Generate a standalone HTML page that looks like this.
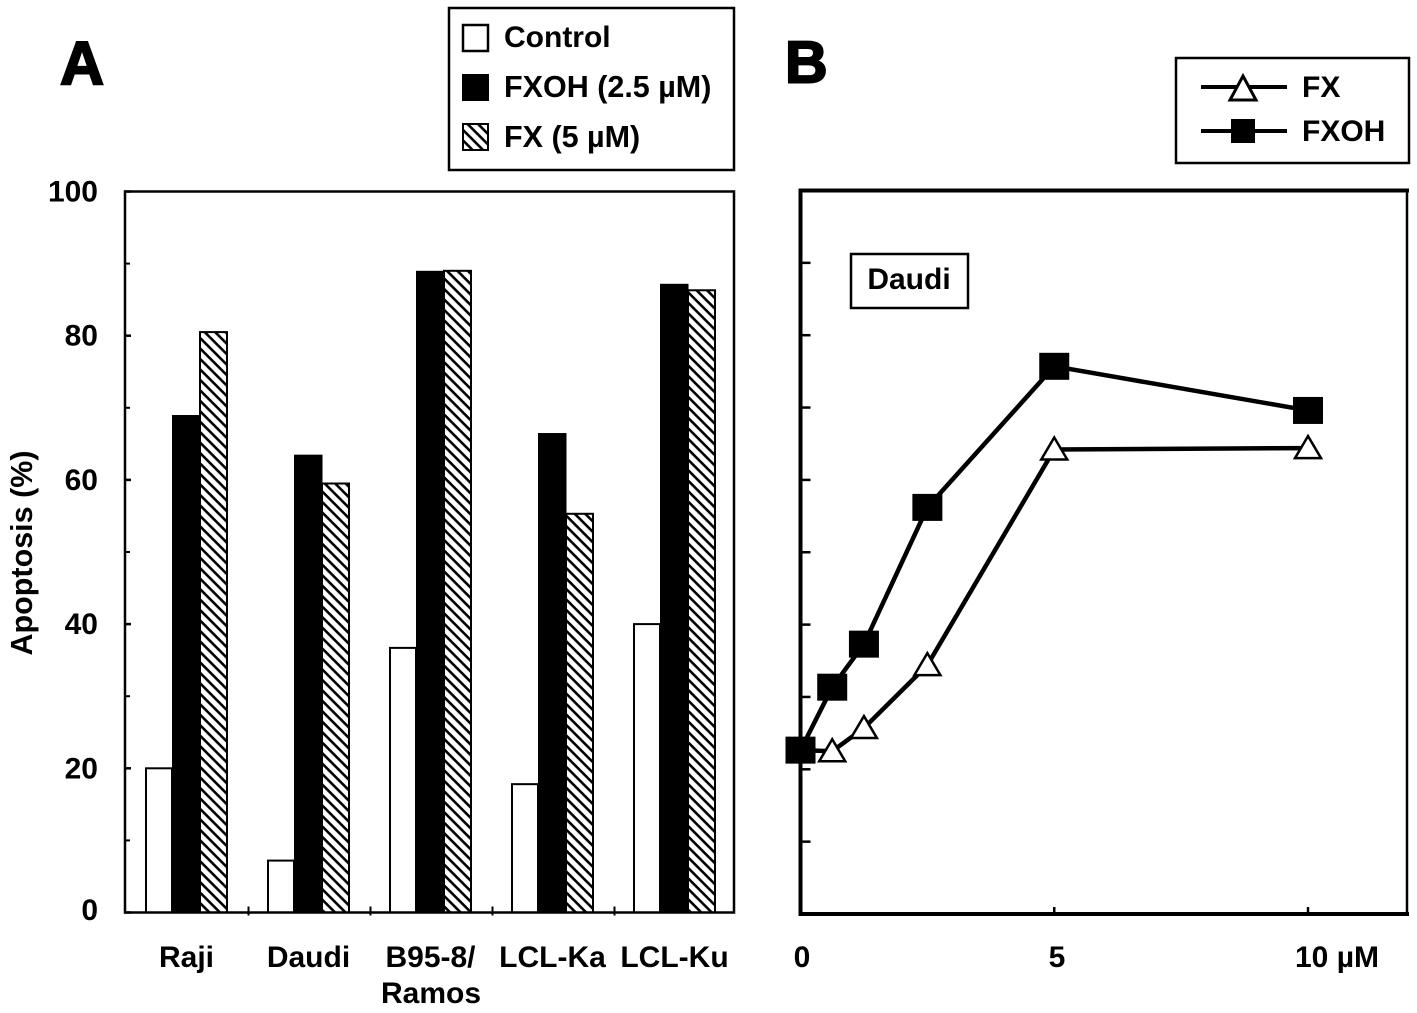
<!DOCTYPE html>
<html lang="en">
<head>
<meta charset="utf-8">
<title>Apoptosis charts</title>
<style>
html,body{margin:0;padding:0;background:#fff;}
svg{display:block;}
text{font-family:"Liberation Sans",sans-serif;font-weight:700;fill:#000;font-size:30px;}
</style>
</head>
<body>
<svg id="fig" xmlns="http://www.w3.org/2000/svg" width="1417" height="1013" viewBox="0 0 1417 1013">
  <defs>
    <pattern id="hatch" patternUnits="userSpaceOnUse" width="7.4" height="7.4" patternTransform="rotate(-45) ">
      <rect width="7.4" height="7.4" fill="#fff"/>
      <rect x="0" y="0" width="7.4" height="2.6" fill="#000" transform="rotate(90 3.7 3.7)"/>
    </pattern>
  </defs>
  <rect width="1417" height="1013" fill="#fff"/>
  <text x="60" y="84.5" style="font-size:61px;stroke:#000;stroke-width:2px">A</text>
  <text x="785" y="82.5" style="font-size:59px;stroke:#000;stroke-width:2px">B</text>

  <g>
    <rect x="449" y="8" width="285" height="162" fill="#fff" stroke="#000" stroke-width="2.5"/>
    <rect x="463" y="25" width="25" height="26" fill="#fff" stroke="#000" stroke-width="2.5"/>
    <text x="504" y="47">Control</text>
    <rect x="462" y="74" width="27" height="27" fill="#000"/>
    <text x="504" y="97" style="font-size:30.5px">FXOH (2.5 µM)</text>
    <rect x="463" y="124" width="25" height="26" fill="url(#hatch)" stroke="#000" stroke-width="2"/>
    <text x="504" y="147" style="font-size:30.5px">FX (5 µM)</text>
  </g>

  <g>
    <rect x="1176" y="58" width="233" height="105" fill="#fff" stroke="#000" stroke-width="2.5"/>
    <line x1="1201" y1="87" x2="1287" y2="87" stroke="#000" stroke-width="4"/>
    <polygon points="1243,76 1256,100 1230,100" fill="#fff" stroke="#000" stroke-width="3"/>
    <text x="1302" y="97">FX</text>
    <line x1="1201" y1="131" x2="1287" y2="131" stroke="#000" stroke-width="4"/>
    <rect x="1231" y="119" width="24" height="24" fill="#000"/>
    <text x="1302" y="141">FXOH</text>
  </g>

  <text transform="translate(32 553) rotate(-90)" text-anchor="middle" style="font-size:30.5px">Apoptosis (%)</text>

  <g id="panelA"></g>
  <g id="panelB"></g>

  <rect x="851" y="254" width="117" height="54" fill="#fff" stroke="#000" stroke-width="2.5"/>
  <text x="909" y="289" text-anchor="middle">Daudi</text>
</svg>
<script>
var categories = ['Raji', 'Daudi', 'B95-8/', 'LCL-Ka', 'LCL-Ku'];
var controlValues = [20, 7.2, 36.7, 17.8, 40];
var fxohBarValues = [69, 63.5, 89, 66.5, 87.2];
var fxBarValues = [80.5, 59.5, 89, 55.3, 86.3];
var yTickLabels = [0, 20, 40, 60, 80, 100];
var yMinorTicks = [10, 30, 50, 70, 90];

var doses = [0, 0.625, 1.25, 2.5, 5, 10];
var fxSeries = [22.65, 22.5, 25.7, 34.4, 64.2, 64.4];
var fxohSeries = [22.65, 31.35, 37.3, 56.2, 75.7, 69.6];
var doseTicks = [5, 10];
var doseLabels = ['0', '5', '10 µM'];
var bYTicks = [10, 20, 30, 40, 50, 60, 70, 80, 90];

var NS = 'http://www.w3.org/2000/svg';
function mk(parent, tag, attrs, txt) {
  var el = document.createElementNS(NS, tag);
  for (var k in attrs) el.setAttribute(k, attrs[k]);
  if (txt !== undefined) el.textContent = txt;
  parent.appendChild(el);
  return el;
}
function tag(el, name) {
  
  
  return el;
}

/* Panel A */
var A = document.getElementById('panelA');
var aLeft = 125, aRight = 734, aTop = 191.5, aBottom = 912.5;
function ya(v) { return aBottom - (v / 100) * (aBottom - aTop); }
function groupX(i) { return 146 + 122 * i; }
function drawBars(values, offset, barW, fill, name) {
  values.forEach(function (v, i) {
    var el = mk(A, 'rect', {
      x: groupX(i) + offset,
      y: ya(v),
      width: barW,
      height: aBottom - ya(v),
      fill: fill,
      stroke: '#000',
      'stroke-width': fill === '#000' ? 0 : 2
    });
    tag(el, name + '-' + categories[i].toLowerCase().replace(/[^a-z0-9]+/g, '-').replace(/-$/, ''));
  });
}
drawBars(controlValues, 0, 26, '#fff', 'bar-control');
drawBars(fxBarValues, 54, 27, 'url(#hatch)', 'bar-fx');
drawBars(fxohBarValues, 26, 28.5, '#000', 'bar-fxoh');

var aFrame = mk(A, 'rect', { x: aLeft, y: aTop, width: aRight - aLeft, height: aBottom - aTop, fill: 'none', stroke: '#000', 'stroke-width': 2.5 });
tag(aFrame, 'plot-frame-a');

yTickLabels.forEach(function (v) {
  var t = mk(A, 'line', { x1: aLeft, x2: aLeft + 6, y1: ya(v), y2: ya(v), stroke: '#000', 'stroke-width': 2.5 });
  tag(t, 'y-tick-' + v);
  var l = mk(A, 'text', { x: 98, y: ya(v) + (v === 0 ? 7.5 : 10), 'text-anchor': 'end' }, String(v));
  tag(l, 'y-tick-label-' + v);
});
yMinorTicks.forEach(function (v) {
  var t = mk(A, 'line', { x1: aLeft, x2: aLeft + 5, y1: ya(v), y2: ya(v), stroke: '#000', 'stroke-width': 2 });
  tag(t, 'y-minor-tick-' + v);
});
categories.forEach(function (c, i) {
  var tx = aLeft + 1.5 + (i + 1) * 122;
  if (i < categories.length - 1) {
    var t = mk(A, 'line', { x1: tx, x2: tx, y1: aBottom - 6, y2: aBottom + 3, stroke: '#000', 'stroke-width': 2 });
    tag(t, 'x-tick-' + (i + 1));
  }
  var cx = 186.5 + i * 122;
  var l = mk(A, 'text', { x: cx, y: 967, 'text-anchor': 'middle' }, c);
  tag(l, 'x-label-' + i);
});
var ramos = mk(A, 'text', { x: 381, y: 1003 }, 'Ramos');
tag(ramos, 'x-label-ramos');

/* Panel B */
var B = document.getElementById('panelB');
var bLeft = 800.5, bRight = 1407, bTop = 190.5, bBottom = 914;
var pxPerDose = 50.75;
function xb(d) { return bLeft + d * pxPerDose; }
function yb(v) { return bBottom - (v / 100) * (bBottom - bTop); }

var thinRight = mk(B, 'line', { x1: bRight, x2: bRight, y1: bTop, y2: bBottom, stroke: '#000', 'stroke-width': 2.5 });
tag(thinRight, 'plot-right-edge-b');
var topEdge = mk(B, 'line', { x1: bLeft - 2, x2: bRight + 2, y1: bTop, y2: bTop, stroke: '#000', 'stroke-width': 4 });
tag(topEdge, 'plot-top-edge-b');
var bottomEdge = mk(B, 'line', { x1: bLeft - 2, x2: bRight + 2, y1: bBottom, y2: bBottom, stroke: '#000', 'stroke-width': 4 });
tag(bottomEdge, 'x-axis-b');
var leftEdge = mk(B, 'line', { x1: bLeft, x2: bLeft, y1: bTop, y2: bBottom, stroke: '#000', 'stroke-width': 4 });
tag(leftEdge, 'y-axis-b');

bYTicks.forEach(function (v) {
  var t = mk(B, 'line', { x1: bLeft, x2: bLeft + 10, y1: yb(v), y2: yb(v), stroke: '#000', 'stroke-width': 2.5 });
  tag(t, 'b-y-tick-' + v);
});
doseTicks.forEach(function (d) {
  var t = mk(B, 'line', { x1: xb(d), x2: xb(d), y1: bBottom - 7, y2: bBottom, stroke: '#000', 'stroke-width': 2.5 });
  tag(t, 'b-x-tick-' + d);
});

function polyPts(values) {
  return values.map(function (v, i) { return xb(doses[i]) + ',' + yb(v); }).join(' ');
}
var fxLine = mk(B, 'polyline', { points: polyPts(fxSeries), fill: 'none', stroke: '#000', 'stroke-width': 4.5, 'stroke-linejoin': 'round' });
tag(fxLine, 'line-fx');
fxSeries.forEach(function (v, i) {
  var x = xb(doses[i]), y = yb(v);
  var m = mk(B, 'polygon', {
    points: x + ',' + (y - 12) + ' ' + (x + 13) + ',' + (y + 10) + ' ' + (x - 13) + ',' + (y + 10),
    fill: '#fff', stroke: '#000', 'stroke-width': 2.5
  });
  tag(m, 'marker-fx-' + i);
});
var fxohLine = mk(B, 'polyline', { points: polyPts(fxohSeries), fill: 'none', stroke: '#000', 'stroke-width': 4.5, 'stroke-linejoin': 'round' });
tag(fxohLine, 'line-fxoh');
fxohSeries.forEach(function (v, i) {
  var m = mk(B, 'rect', { x: xb(doses[i]) - 15, y: yb(v) - 13.5, width: 30, height: 27, fill: '#000' });
  tag(m, 'marker-fxoh-' + i);
});

var l0 = mk(B, 'text', { x: 802, y: 967, 'text-anchor': 'middle' }, doseLabels[0]);
tag(l0, 'b-x-label-0');
var l5 = mk(B, 'text', { x: 1057, y: 967, 'text-anchor': 'middle' }, doseLabels[1]);
tag(l5, 'b-x-label-5');
var l10 = mk(B, 'text', { x: 1295, y: 967 }, doseLabels[2]);
tag(l10, 'b-x-label-10');
</script>
</body>
</html>
